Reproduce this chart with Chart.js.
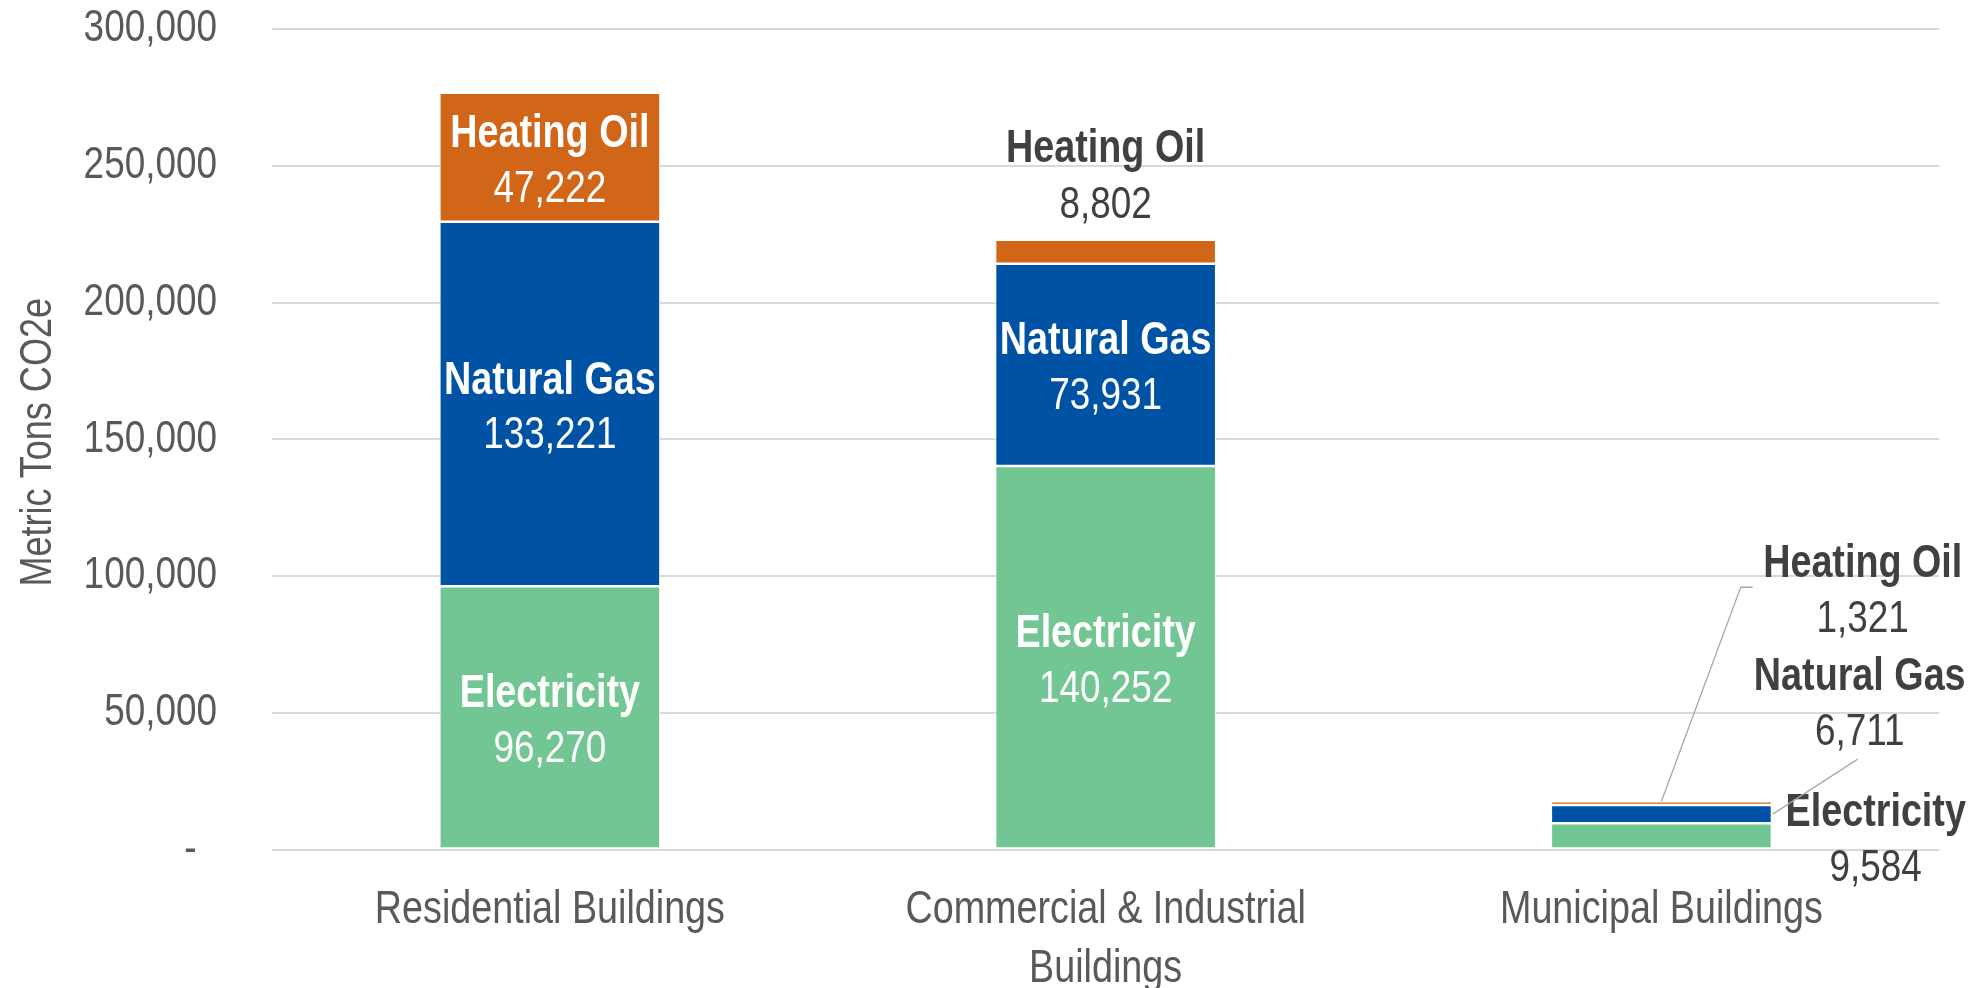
<!DOCTYPE html>
<html>
<head>
<meta charset="utf-8">
<script src="https://cdn.jsdelivr.net/npm/chart.js@4.4.1/dist/chart.umd.min.js"></script>
<style>
  html, body { margin: 0; padding: 0; background: #ffffff; overflow: hidden; }
  #wrap { width: 1971px; height: 988px; position: relative; }
</style>
</head>
<body>
<div id="wrap"><canvas id="c"></canvas></div>
<script>
// ---------- DATA ----------
const categories = [['Residential Buildings'], ['Commercial & Industrial', 'Buildings'], ['Municipal Buildings']];
const seriesNames = ['Electricity', 'Natural Gas', 'Heating Oil'];
const electricity = [96270, 140252, 9584];
const naturalGas = [133221, 73931, 6711];
const heatingOil = [47222, 8802, 1321];
const yTickValues = [0, 50000, 100000, 150000, 200000, 250000, 300000];
const yAxisTitle = 'Metric Tons CO2e';

// ---------- CANVAS (text is drawn horizontally condensed, like the original) ----------
const W = 1971, H = 988;
const S = 0.82;                 // horizontal condensation factor
const LW = Math.round(W / S);   // logical width used by the chart layout
const X = v => v / S;           // screen px -> logical px (horizontal)
const canvas = document.getElementById('c');
canvas.setAttribute('width', LW);
canvas.setAttribute('height', H);
canvas.style.width = W + 'px';
canvas.style.height = H + 'px';

const FAM = '"Liberation Sans", Arial, sans-serif';
const colors = ['#72C694', '#0053A4', '#D16518'];
const seriesData = [electricity, naturalGas, heatingOil];

const condense = {
  id: 'condense',
  beforeDraw(chart) {
    const c = chart.canvas;
    if (c.width !== W || c.height !== H) { c.width = W; c.height = H; }
    chart.ctx.setTransform(S, 0, 0, 1, 0, 0);
  }
};

// ---------- LABEL PLACEMENT (style/position only) ----------
const LABEL_DY = 4;
const outsideLabels = {
  '1-2': { anchor: 'top', dx: 0, dyName: -94, dyValue: -38 },
  '2-0': { anchor: 'right', dx: 104, dyName: -27, dyValue: 29 },
  '2-1': { anchor: 'right', dx: 88, dyName: -141, dyValue: -86, leader: 'nat' },
  '2-2': { anchor: 'right', dx: 91, dyName: -243, dyValue: -188, leader: 'oil' }
};

const segLabels = {
  id: 'segLabels',
  afterDatasetsDraw(chart) {
    const ctx = chart.ctx;
    ctx.save();
    chart.data.datasets.forEach((ds, di) => {
      const meta = chart.getDatasetMeta(di);
      meta.data.forEach((el, i) => {
        const v = ds.data[i];
        const top = Math.min(el.y, el.base), bot = Math.max(el.y, el.base);
        const cy = (top + bot) / 2;
        const o = outsideLabels[i + '-' + di];
        let cx, ny, vy, color;
        if (!o) {
          cx = el.x; ny = cy - 27; vy = cy + 28; color = '#FFFFFF';
        } else {
          color = '#404040';
          if (o.anchor === 'top') { cx = el.x + X(o.dx); ny = top + o.dyName; vy = top + o.dyValue; }
          else { cx = el.x + el.width / 2 + X(o.dx); ny = cy + o.dyName; vy = cy + o.dyValue; }
          if (o.leader) {
            ctx.beginPath();
            ctx.strokeStyle = '#A6A6A6';
            ctx.lineWidth = 1.5;
            if (o.leader === 'oil') {
              ctx.moveTo(cx - X(110), vy - 28);
              ctx.lineTo(cx - X(122), vy - 28);
              ctx.lineTo(el.x, top);
            } else {
              ctx.moveTo(cx - X(2), vy + 31);
              ctx.lineTo(el.x + el.width / 2 + X(1), cy);
            }
            ctx.stroke();
          }
        }
        ctx.fillStyle = color;
        ctx.textAlign = 'center';
        ctx.textBaseline = 'middle';
        ctx.font = 'bold 46px ' + FAM;
        ctx.fillText(ds.label, cx, ny + LABEL_DY);
        ctx.font = 'normal 45px ' + FAM;
        ctx.fillText(v.toLocaleString('en-US'), cx, vy + LABEL_DY);
      });
    });
    ctx.restore();
  },
  afterDraw(chart) {
    // y-axis title, condensed along its own reading direction
    const ctx = chart.ctx;
    const a = chart.chartArea;
    ctx.save();
    ctx.setTransform(1, 0, 0, 1, 0, 0);
    ctx.translate(39, (a.top + a.bottom) / 2 + 3);
    ctx.rotate(-Math.PI / 2);
    ctx.scale(S, 1);
    ctx.fillStyle = '#595959';
    ctx.font = 'normal 44px ' + FAM;
    ctx.textAlign = 'center';
    ctx.textBaseline = 'middle';
    ctx.fillText(yAxisTitle, 0, 0);
    ctx.restore();
  }
};

const datasets = seriesNames.map((n, k) => ({
  label: n,
  data: seriesData[k],
  backgroundColor: colors[k],
  borderColor: '#FFFFFF',
  borderWidth: 1.25,
  borderSkipped: false,
  barPercentage: 0.397,
  categoryPercentage: 1.0
}));

new Chart(canvas, {
  type: 'bar',
  data: { labels: categories, datasets },
  plugins: [condense, segLabels],
  options: {
    responsive: false,
    animation: false,
    devicePixelRatio: 1,
    layout: { padding: { top: 29, right: X(32), left: 0, bottom: 0 } },
    plugins: { legend: { display: false }, tooltip: { enabled: false } },
    scales: {
      x: {
        stacked: true,
        grid: { display: false, drawTicks: false },
        border: { display: false },
        ticks: {
          color: '#595959',
          font: { family: FAM, size: 46, lineHeight: 1.28 },
          padding: 31,
          maxRotation: 0,
          autoSkip: false
        },
        afterFit(s) { s.height = 138.5; }
      },
      y: {
        stacked: true,
        min: 0,
        max: 300000,
        afterBuildTicks(s) { s.ticks = yTickValues.map(v => ({ value: v })); },
        grid: { color: '#D9D9D9', lineWidth: 2, drawTicks: false },
        border: { display: false },
        ticks: {
          color: '#595959',
          font: { family: FAM, size: 45 },
          padding: X(55),
          callback: v => v === 0 ? '-  ' : Number(v).toLocaleString('en-US')
        },
        title: { display: false },
        afterFit(s) { s.width = X(272); s.paddingTop = 20; s.paddingBottom = 20; }
      }
    }
  }
});
</script>
</body>
</html>
